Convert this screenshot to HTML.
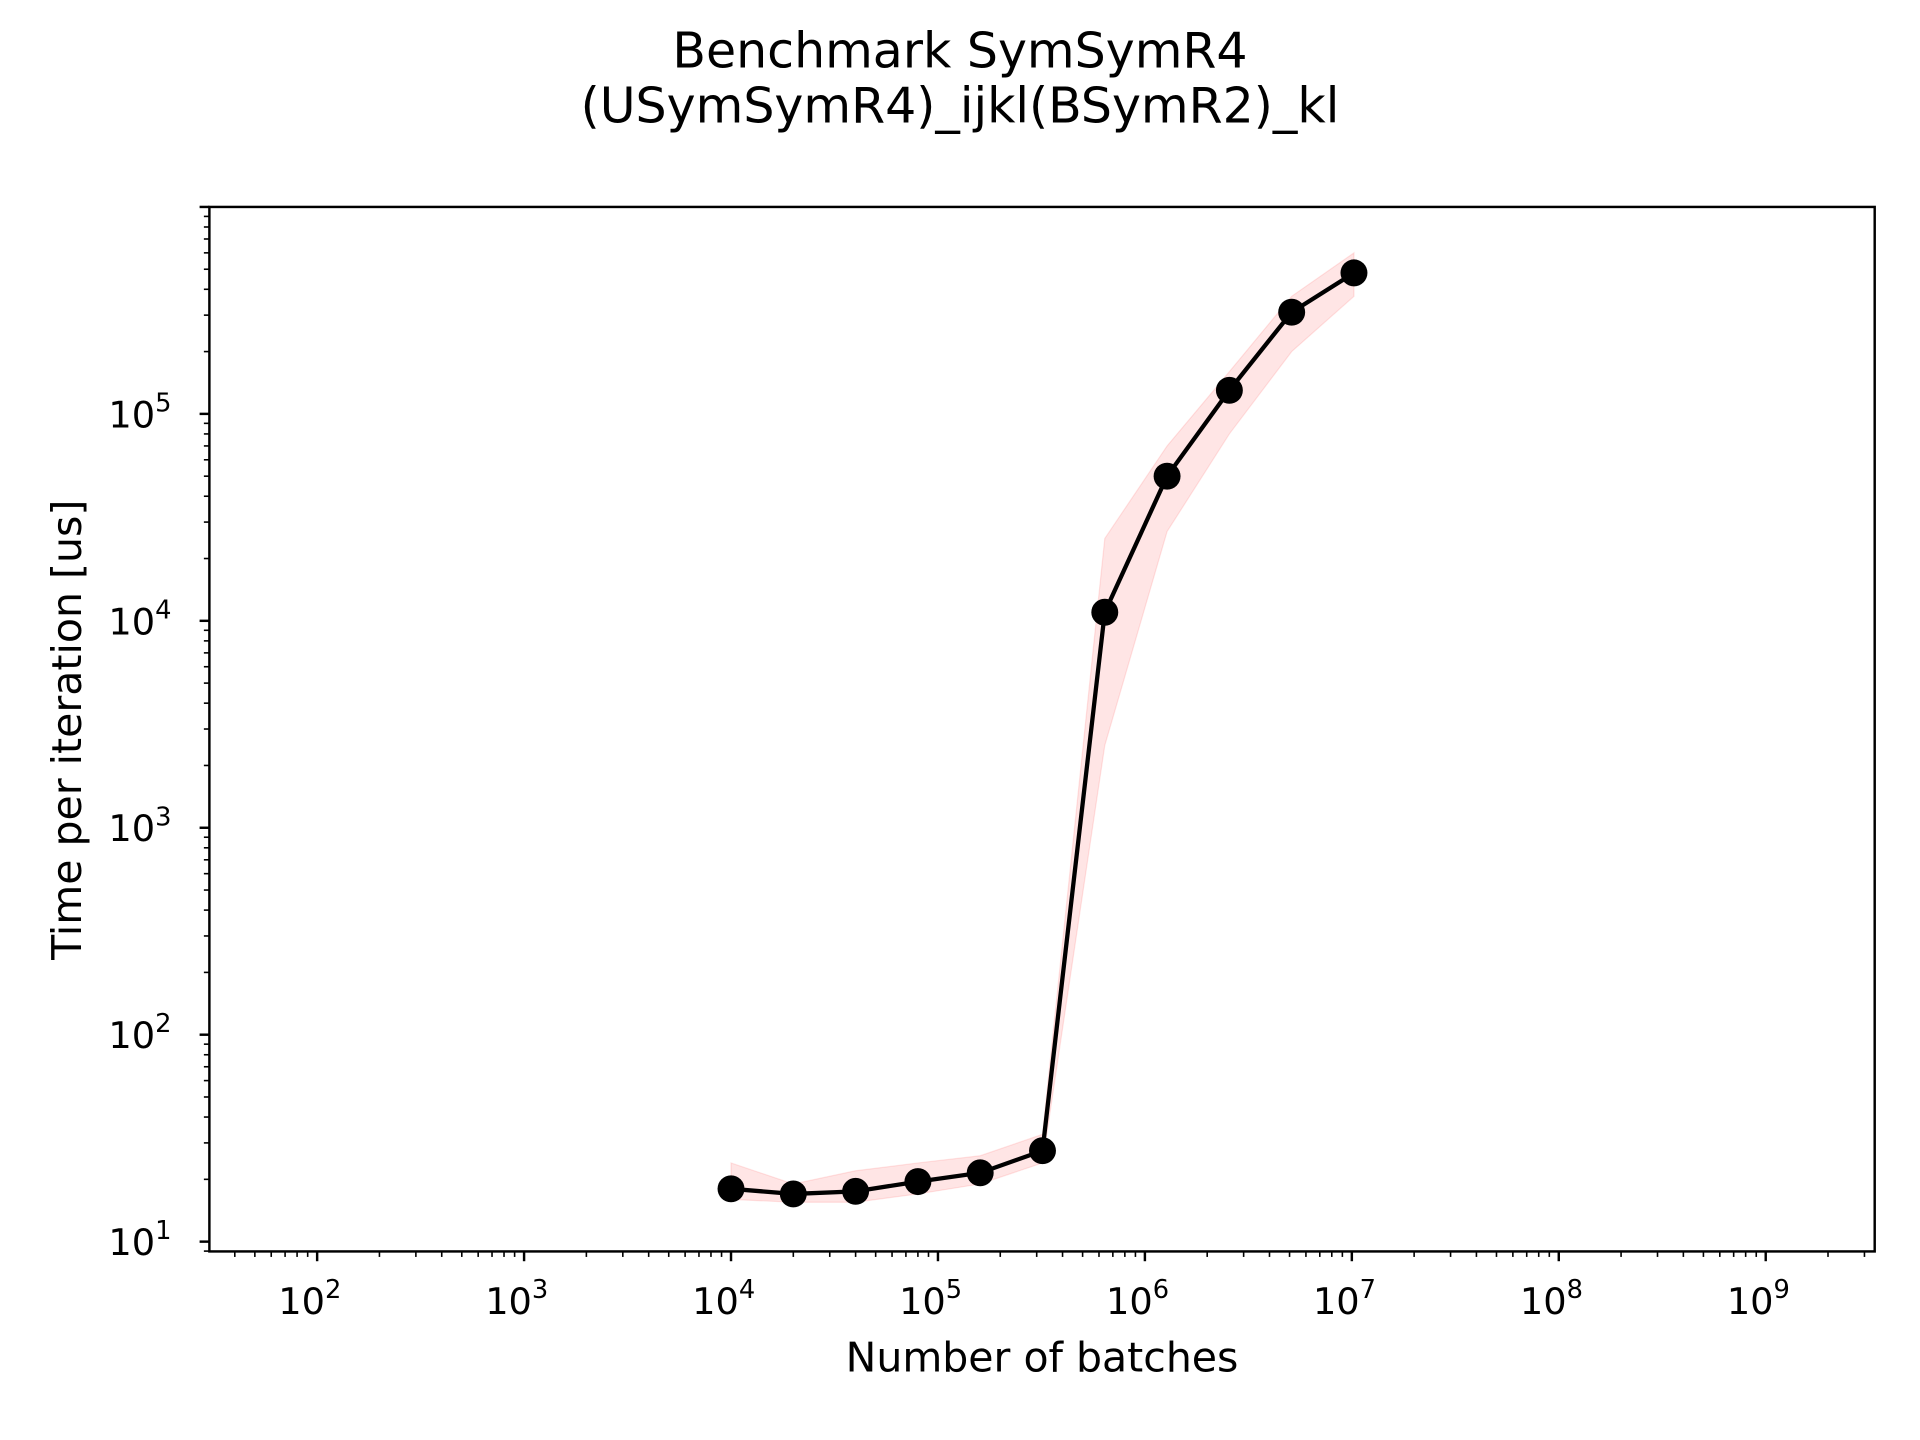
<!DOCTYPE html>
<html><head><meta charset="utf-8"><style>html,body{margin:0;padding:0;background:#fff}svg{display:block}</style></head>
<body>
<svg id="chart" width="1920" height="1440" viewBox="0 0 1568 1176" xmlns="http://www.w3.org/2000/svg" font-family="'DejaVu Sans','Liberation Sans',sans-serif">
<rect width="1568" height="1176" fill="#fff"/>
<text x="784" y="55" font-size="40" text-anchor="middle">Benchmark SymSymR4</text>
<text x="784" y="100" font-size="40" text-anchor="middle">(USymSymR4)_ijkl(BSymR2)_kl</text>
<g id="plot"></g>
<text x="851" y="1120" font-size="33.5" text-anchor="middle">Number of batches</text>
<text transform="translate(66,596) rotate(-90)" font-size="33.5" text-anchor="middle">Time per iteration [us]</text>
</svg>
<script>
const batches=[1e4,2e4,4e4,8e4,1.6e5,3.2e5,6.4e5,1.28e6,2.56e6,5.12e6,1.024e7];
const times=[18,17,17.5,19.5,21.5,27.5,11000,50000,130000,310000,480000];
const upper=[24,19,22,24,26,33,25000,70000,160000,370000,600000];
const lower=[16,15.5,15.5,17,19,24,2500,27000,80000,200000,370000];
const xTicks=[2,3,4,5,6,7,8,9];
const yTicks=[1,2,3,4,5];
const L=171,R=1531,T=169,B=1022;
const xmin=2-88/169,xmax=9+89/169,ymin=1-8/169,ymax=6;
const X=v=>L+(Math.log10(v)-xmin)/(xmax-xmin)*(R-L);
const Y=v=>B-(Math.log10(v)-ymin)/(ymax-ymin)*(B-T);
const NS="http://www.w3.org/2000/svg",g=document.getElementById('plot');
function mk(t,a,p){const e=document.createElementNS(NS,t);for(const k in a)e.setAttribute(k,a[k]);(p||g).appendChild(e);return e;}
let d='M'+batches.map((b,i)=>X(b)+','+Y(upper[i])).join('L')+'L'+batches.map((b,i)=>X(b)+','+Y(lower[i])).reverse().join('L')+'Z';
const band=mk('path',{d:d,fill:'#ff0000','fill-opacity':0.1,stroke:'#ff0000','stroke-opacity':0.1});


const line=mk('path',{d:'M'+batches.map((b,i)=>X(b)+','+Y(times[i])).join('L'),fill:'none',stroke:'#000','stroke-width':3.5});


batches.forEach((b,i)=>{const c=mk('circle',{cx:X(b),cy:Y(times[i]),r:11,fill:'#000'});

});
const frame=mk('rect',{x:L,y:T,width:R-L,height:B-T,fill:'none',stroke:'#000','stroke-width':2});


for(let e=1;e<=10;e++)for(let m=1;m<10;m++){const v=m*Math.pow(10,e),x=X(v);if(x<L||x>R)continue;
mk('line',{x1:x,x2:x,y1:B,y2:B+(m==1?8:4.5),stroke:'#000','stroke-width':m==1?2:1.3});}
for(let e=0;e<=6;e++)for(let m=1;m<10;m++){const v=m*Math.pow(10,e),y=Y(v);if(y<T-0.5||y>B)continue;
mk('line',{x1:L,x2:L-(m==1?8:4.5),y1:y,y2:y,stroke:'#000','stroke-width':m==1?2:1.3});}
xTicks.forEach(e=>{const t=mk('text',{x:X(Math.pow(10,e))-6,y:B+51,'font-size':30,'text-anchor':'middle'});


t.innerHTML='10<tspan dy="-13" font-size="21">'+e+'</tspan>';});
yTicks.forEach(e=>{const t=mk('text',{x:L-31,y:Y(Math.pow(10,e))+11,'font-size':30,'text-anchor':'end'});


t.innerHTML='10<tspan dy="-13" font-size="21">'+e+'</tspan>';});
</script>
</body></html>
